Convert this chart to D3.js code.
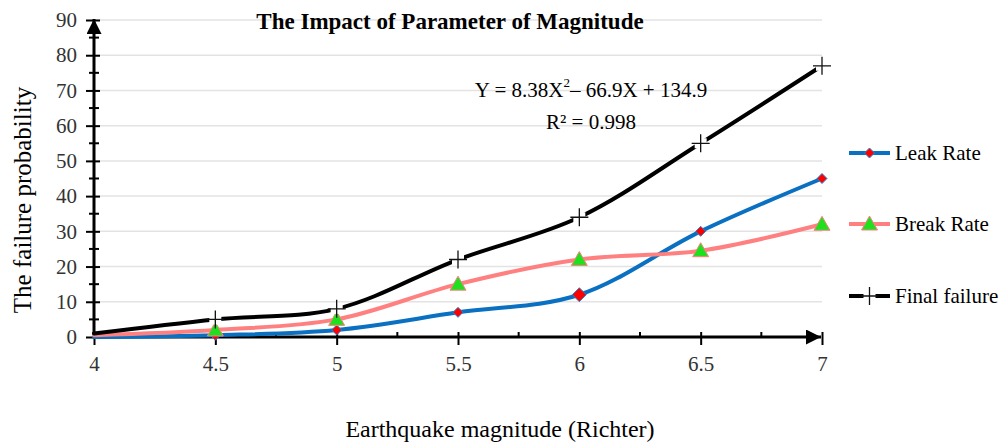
<!DOCTYPE html>
<html>
<head>
<meta charset="utf-8">
<script src="https://cdn.jsdelivr.net/npm/d3@7"></script>
<style>
  body { margin: 0; background: #fff; }
  svg text { font-family: "Liberation Serif", "Times New Roman", serif; }
</style>
</head>
<body>
<div id="chart"></div>
<script>
// data
const magnitudes = [4, 4.5, 5, 5.5, 6, 6.5, 7];
const leakRate = [0, 0.5, 2, 7, 12, 30, 45];
const breakRate = [0.5, 2, 5, 15, 22, 24.5, 32];
const finalFailure = [1, 5, 8, 22, 34, 55, 77];
const xTicks = [4, 4.5, 5, 5.5, 6, 6.5, 7];
const yTicks = [0, 10, 20, 30, 40, 50, 60, 70, 80, 90];

const W = 1001, H = 443;
const margin = { top: 20, right: 179, bottom: 106, left: 94 };
const width = W - margin.left - margin.right;
const height = H - margin.top - margin.bottom;

const svg = d3.select("#chart").append("svg")
    .attr("width", W)
    .attr("height", H);

const g = svg.append("g")
    .attr("transform", "translate(" + margin.left + "," + margin.top + ")");

const x = d3.scaleLinear().domain([4, 7]).range([0, width]);
const y = d3.scaleLinear().domain([0, 90]).range([height, 0]);

// gridlines
g.selectAll(".grid")
    .data(yTicks.slice(1))
    .enter().append("line")
    .attr("x1", 0).attr("x2", width)
    .attr("y1", d => y(d)).attr("y2", d => y(d))
    .attr("stroke", "#e3e3e3")
    .attr("stroke-width", 1.5);

// arrow heads
const defs = svg.append("defs");
defs.append("marker")
    .attr("id", "arrow")
    .attr("viewBox", "0 0 10 10")
    .attr("refX", 10).attr("refY", 5)
    .attr("markerWidth", 5).attr("markerHeight", 5)
    .attr("orient", "auto")
    .append("path").attr("d", "M0,0L10,5L0,10Z").attr("fill", "#000");

// y axis
const yAxis = g.append("g")
    .call(d3.axisLeft(y).tickValues(yTicks).tickSize(8).tickPadding(9))
    .attr("font-family", "Liberation Serif")
    .attr("font-size", 21);
yAxis.select(".domain").remove();
yAxis.selectAll(".tick line").attr("x2", -8).attr("x1", 6).attr("stroke-width", 2);
yAxis.selectAll(".tick text").attr("fill", "#333");
// minor ticks on y
g.selectAll(".yminor")
    .data(d3.range(5, 90, 10))
    .enter().append("line")
    .attr("x1", -5).attr("x2", 5)
    .attr("y1", d => y(d)).attr("y2", d => y(d))
    .attr("stroke", "#000").attr("stroke-width", 2);
g.append("line")
    .attr("x1", 0).attr("x2", 0)
    .attr("y1", height).attr("y2", y(90) - 1)
    .attr("stroke", "#000").attr("stroke-width", 3)
    .attr("marker-end", "url(#arrow)");

// x axis
const xAxis = g.append("g")
    .attr("transform", "translate(0," + height + ")")
    .call(d3.axisBottom(x).tickValues(xTicks).tickFormat(d3.format("")).tickSize(8).tickPadding(11))
    .attr("font-family", "Liberation Serif")
    .attr("font-size", 21);
xAxis.select(".domain").remove();
xAxis.selectAll(".tick line").attr("y1", -5).attr("y2", 8).attr("stroke-width", 2);
xAxis.selectAll(".tick text").attr("fill", "#333");
g.selectAll(".xminor")
    .data(d3.range(4.25, 7, 0.5))
    .enter().append("line")
    .attr("x1", d => x(d)).attr("x2", d => x(d))
    .attr("y1", height - 5).attr("y2", height)
    .attr("stroke", "#000").attr("stroke-width", 2);
g.append("line")
    .attr("x1", 0).attr("x2", width - 1)
    .attr("y1", height).attr("y2", height)
    .attr("stroke", "#000").attr("stroke-width", 3)
    .attr("marker-end", "url(#arrow)");

// series
const series = [
    { name: "Leak Rate", values: leakRate, color: "#0a70c2", symbol: "diamond" },
    { name: "Break Rate", values: breakRate, color: "#ff8080", symbol: "triangle" },
    { name: "Final failure", values: finalFailure, color: "#000", symbol: "plus" }
];

const line = d3.line()
    .x((d, i) => x(magnitudes[i]))
    .y(d => y(d))
    .curve(d3.curveCatmullRom.alpha(0.5));

function drawMarker(sel, type, cx, cy, big) {
    if (type === "diamond") {
        const s = big ? 7 : 5;
        sel.append("path")
            .attr("d", `M${cx},${cy - s}L${cx + s},${cy}L${cx},${cy + s}L${cx - s},${cy}Z`)
            .attr("fill", "#f00").attr("stroke", "#1a8ad8").attr("stroke-width", 1);
    } else if (type === "triangle") {
        const s = 8;
        sel.append("path")
            .attr("d", `M${cx},${cy - s}L${cx + s},${cy + s * 0.75}L${cx - s},${cy + s * 0.75}Z`)
            .attr("fill", "#1ee01e").attr("stroke", "#ff8080").attr("stroke-width", 1);
    } else {
        const s = 9;
        sel.append("rect")
            .attr("x", cx - 6).attr("y", cy - 5).attr("width", 12).attr("height", 10)
            .attr("fill", "#fff");
        sel.append("path")
            .attr("d", `M${cx - s},${cy}H${cx + s}M${cx},${cy - s}V${cy + s}`)
            .attr("stroke", "#111").attr("stroke-width", 1.3).attr("fill", "none");
    }
}

series.forEach(s => {
    g.append("path")
        .datum(s.values)
        .attr("fill", "none")
        .attr("stroke", s.color)
        .attr("stroke-width", 4)
        .attr("stroke-linecap", "round")
        .attr("d", line);
});

series.forEach(s => {
    const mg = g.append("g");
    s.values.forEach((v, i) => {
        if (i === 0) return;
        drawMarker(mg, s.symbol, x(magnitudes[i]), y(v), s.symbol === "diamond" && magnitudes[i] === 6);
    });
});

// title and fit annotation
svg.append("text")
    .attr("x", 450).attr("y", 29)
    .attr("text-anchor", "middle")
    .style("font-size", "23px").style("font-weight", "bold")
    .text("The Impact of Parameter of Magnitude");

const eq = svg.append("text")
    .attr("x", 591).attr("y", 97)
    .attr("text-anchor", "middle")
    .style("font-size", "21px");
eq.append("tspan").text("Y = 8.38X");
eq.append("tspan").attr("dy", -10).style("font-size", "13px").text("2");
eq.append("tspan").attr("dy", 10).text("– 66.9X + 134.9");

svg.append("text")
    .attr("x", 591).attr("y", 129)
    .attr("text-anchor", "middle")
    .style("font-size", "21px")
    .text("R² = 0.998");

// axis labels
svg.append("text")
    .attr("transform", "translate(31,200) rotate(-90)")
    .attr("text-anchor", "middle")
    .style("font-size", "25px")
    .text("The failure probability");

svg.append("text")
    .attr("x", 500).attr("y", 437)
    .attr("text-anchor", "middle")
    .style("font-size", "24px")
    .text("Earthquake magnitude (Richter)");

// legend
const legendY = [153, 224, 296];
series.forEach((s, i) => {
    const lg = svg.append("g");
    lg.append("line")
        .attr("x1", 849).attr("x2", 890)
        .attr("y1", legendY[i]).attr("y2", legendY[i])
        .attr("stroke", s.color).attr("stroke-width", 4);
    drawMarker(lg, s.symbol, 869.5, legendY[i], false);
    lg.append("text")
        .attr("x", 895).attr("y", legendY[i] + 7)
        .style("font-size", "21px")
        .text(s.name);
});
</script>
</body>
</html>
